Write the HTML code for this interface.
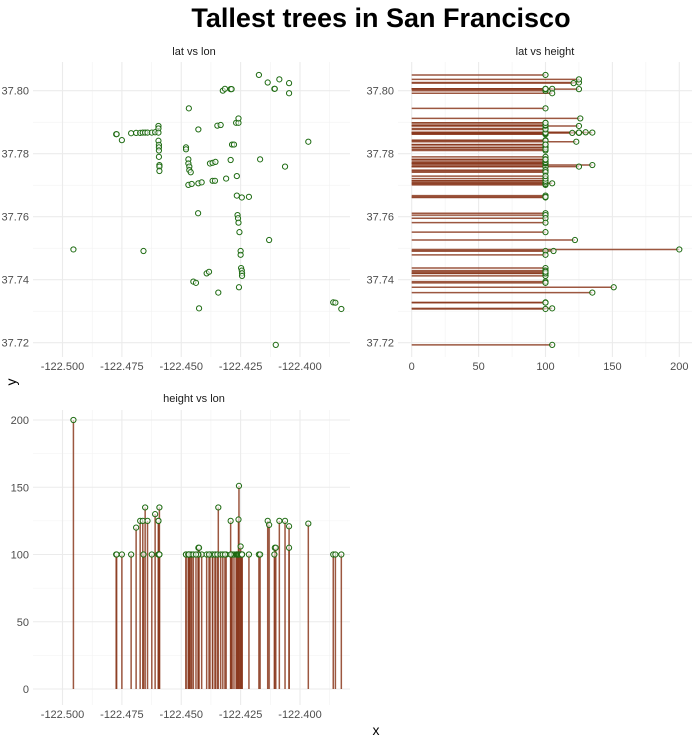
<!DOCTYPE html>
<html><head><meta charset="utf-8"><style>
body{margin:0;background:#fff}
svg text{font-family:"Liberation Sans",Arial,sans-serif}
</style></head><body>
<svg id="chart" width="700" height="745" xmlns="http://www.w3.org/2000/svg">
<text x="381" y="27" text-anchor="middle" font-size="27" font-weight="bold" fill="#000">Tallest trees in San Francisco</text>
<text x="194" y="55" text-anchor="middle" font-size="11" fill="#1a1a1a">lat vs lon</text>
<text x="545" y="55" text-anchor="middle" font-size="11" fill="#1a1a1a">lat vs height</text>
<text x="194" y="402" text-anchor="middle" font-size="11" fill="#1a1a1a">height vs lon</text>
<text x="376" y="735" text-anchor="middle" font-size="14" fill="#000">x</text>
<text x="16" y="382" text-anchor="middle" font-size="14" fill="#000" transform="rotate(-90 16 382)">y</text>
<g id="p1"></g><g id="p2"></g><g id="p3"></g>
</svg>
<script>
const lon=[-122.4954,-122.4659,-122.4774,-122.4772,-122.4750,-122.4711,-122.4690,-122.4673,-122.4662,-122.4652,-122.4642,-122.4624,-122.4610,
-122.4596,-122.4596,-122.4596,-122.4596,-122.4594,-122.4594,-122.4594,-122.4594,-122.4592,-122.4592,-122.4592,
-122.4480,-122.4480,-122.4470,-122.4470,-122.4466,-122.4466,-122.4460,-122.4470,-122.4456,-122.4428,-122.4414,
-122.4468,-122.4428,-122.4429,-122.4379,-122.4368,-122.4356,-122.4368,-122.4358,-122.4311,-122.4348,-122.4334,
-122.4325,-122.4316,-122.4292,-122.4288,-122.4286,-122.4278,-122.4292,-122.4269,-122.4259,-122.4259,-122.4266,
-122.4266,-122.4245,-122.4215,-122.4263,-122.4261,-122.4259,-122.4255,-122.4250,-122.4250,-122.4248,-122.4245,
-122.4244,-122.4244,-122.4257,-122.4344,-122.4425,-122.4449,-122.4438,-122.4393,-122.4383,-122.4173,-122.4136,
-122.4108,-122.4106,-122.4087,-122.4046,-122.4046,-122.4168,-122.4063,-122.3965,-122.4130,-122.4102,-122.3860,-122.3851,-122.3826];
const lat=[37.7496,37.7491,37.7862,37.7862,37.7843,37.7865,37.7866,37.7866,37.7867,37.7867,37.7867,37.7867,37.7868,
37.7888,37.7880,37.7867,37.7841,37.7828,37.7820,37.7810,37.7790,37.7764,37.7759,37.7745,
37.7820,37.7814,37.7782,37.7769,37.7759,37.7748,37.7741,37.7701,37.7704,37.7706,37.7709,
37.7944,37.7877,37.7611,37.7769,37.7771,37.7774,37.7714,37.7714,37.7721,37.7889,37.7891,
37.8000,37.8006,37.8005,37.8005,37.7829,37.7829,37.7780,37.7898,37.7898,37.7912,37.7729,
37.7667,37.7661,37.7663,37.7605,37.7595,37.7581,37.7551,37.7491,37.7479,37.7437,37.7429,
37.7420,37.7412,37.7376,37.7359,37.7309,37.7394,37.7390,37.7420,37.7425,37.8050,37.8026,
37.8006,37.8006,37.8036,37.8024,37.7992,37.7782,37.7759,37.7838,37.7526,37.7193,37.7328,37.7327,37.7307];
const height=[200,100,100,100,100,100,120,125,125,135,125,100,130,
125,100,125,100,100,100,100,100,135,100,100,
100,100,100,100,100,100,100,100,100,105,100,
100,100,100,100,100,100,100,100,100,100,100,
100,100,125,100,100,100,100,100,100,126,100,
100,100,100,100,100,100,100,106,100,100,100,
100,100,151,135,105,100,100,100,100,100,125,
100,105,125,121,105,100,125,123,122,105,100,100,100];
const lonTicks=[-122.500,-122.475,-122.450,-122.425,-122.400];
const latTicks=[37.72,37.74,37.76,37.78,37.80];
const hTicks=[0,50,100,150,200];

const NS='http://www.w3.org/2000/svg';
function mk(tag,attrs,parent){const e=document.createElementNS(NS,tag);for(const k in attrs)e.setAttribute(k,attrs[k]);parent.appendChild(e);return e;}
function lin(d0,d1,r0,r1){return v=>r0+(v-d0)/(d1-d0)*(r1-r0);}
const P1={x0:33,x1:350,y0:62,y1:357}, P2={x0:398,x1:692,y0:62,y1:357}, P3={x0:33,x1:350,y0:410,y1:705};
const xLon=lin(-122.5,-122.4,62.5,300);
const yLat=lin(37.72,37.80,342.7,90.7);
const xH=lin(0,200,411.7,679.3);
const yH=lin(0,200,689,420);

function grid(g,P,xs,ys,xt,yt,xlab,ylab){
  const step=(a)=>a[1]-a[0];
  const minor=(t)=>{const s=step(t);const r=[];for(let i=-1;i<t.length;i++)r.push(t[0]+(i+0.5)*s);return r;};
  minor(xt).forEach(v=>{const x=xs(v);if(x>P.x0&&x<P.x1){const l=mk('line',{x1:x,x2:x,y1:P.y0,y2:P.y1,stroke:'#f2f2f2','stroke-width':0.6},g);}});
  minor(yt).forEach(v=>{const y=ys(v);if(y>P.y0&&y<P.y1){const l=mk('line',{x1:P.x0,x2:P.x1,y1:y,y2:y,stroke:'#f2f2f2','stroke-width':0.6},g);}});
  xt.forEach((v,i)=>{const x=xs(v);const l=mk('line',{x1:x,x2:x,y1:P.y0,y2:P.y1,stroke:'#ebebeb','stroke-width':1.1},g);
    const t=mk('text',{x:x,y:P.y1+13,'text-anchor':'middle','font-size':11,fill:'#4d4d4d'},g);t.textContent=xlab[i];});
  yt.forEach((v,i)=>{const y=ys(v);const l=mk('line',{x1:P.x0,x2:P.x1,y1:y,y2:y,stroke:'#ebebeb','stroke-width':1.1},g);
    const t=mk('text',{x:P.x0-4,y:y+4,'text-anchor':'end','font-size':11,fill:'#4d4d4d'},g);t.textContent=ylab[i];});
}
const lonLab=lonTicks.map(v=>v.toFixed(3)), latLab=latTicks.map(v=>v.toFixed(2)), hLab=hTicks.map(String);
const g1=document.getElementById('p1'),g2=document.getElementById('p2'),g3=document.getElementById('p3');



grid(g1,P1,xLon,yLat,lonTicks,latTicks,lonLab,latLab);
grid(g2,P2,xH,yLat,hTicks,latTicks,hLab,latLab);
grid(g3,P3,xLon,yH,lonTicks,hTicks,lonLab,hLab);
const SEG='#8b3a1e', PT='#1e6b12';
function pt(g,x,y,name){const c=mk('circle',{cx:x,cy:y,r:2.6,fill:'#fff','fill-opacity':0.6,stroke:PT,'stroke-width':1},g);}
for(let i=0;i<lon.length;i++){
  const s2=mk('line',{x1:xH(0),x2:xH(height[i]),y1:yLat(lat[i]),y2:yLat(lat[i]),stroke:SEG,'stroke-width':1.5,'stroke-opacity':0.85},g2);
  
  const s3=mk('line',{x1:xLon(lon[i]),x2:xLon(lon[i]),y1:yH(0),y2:yH(height[i]),stroke:SEG,'stroke-width':1.5,'stroke-opacity':0.85},g3);
  
}
for(let i=0;i<lon.length;i++){
  pt(g1,xLon(lon[i]),yLat(lat[i]),'tree-point');
  pt(g2,xH(height[i]),yLat(lat[i]),'tree-point');
  pt(g3,xLon(lon[i]),yH(height[i]),'tree-point');
}
</script>
</body></html>
